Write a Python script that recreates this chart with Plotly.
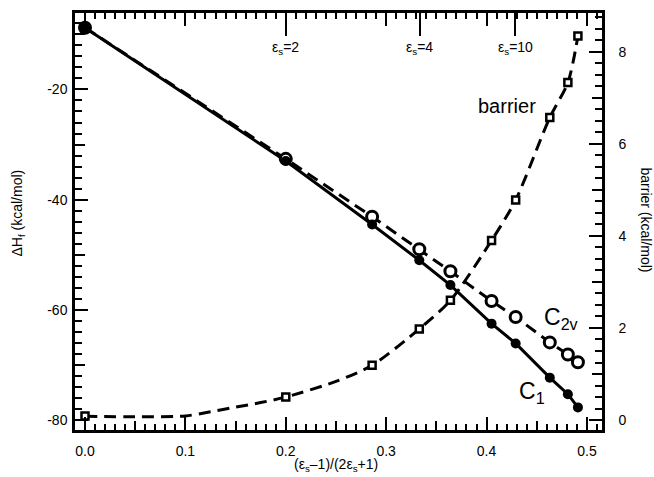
import plotly.graph_objects as go

# ---------------- data ----------------
x_pts = [0.0, 0.2, 0.286, 0.333, 0.364, 0.405, 0.429, 0.463, 0.481, 0.491]
c1 = [-8.8, -33.0, -44.5, -51.0, -55.5, -62.5, -66.1, -72.3, -75.3, -77.7]
c2v = [-8.8, -32.6, -43.1, -49.0, -53.0, -58.4, -61.3, -65.9, -68.1, -69.5]
barrier = [0.09, 0.5, 1.19, 1.98, 2.6, 3.9, 4.78, 6.57, 7.33, 8.34]

# dashed fit curve of the barrier
barrier_fit_x = [0.0, 0.05, 0.1, 0.125, 0.15, 0.175, 0.2, 0.25, 0.286, 0.333, 0.364, 0.405, 0.429, 0.463, 0.481, 0.491]
barrier_fit_y = [0.08, 0.07, 0.09, 0.18, 0.28, 0.38, 0.5, 0.84, 1.19, 1.98, 2.6, 3.9, 4.78, 6.57, 7.33, 8.34]

eps_tick_x = [0.2, 0.3333, 0.4286]
eps_tick_labels = ["ε<sub>s</sub>=2", "ε<sub>s</sub>=4", "ε<sub>s</sub>=10"]

x_tick_vals = [0, 0.1, 0.2, 0.3, 0.4, 0.5]
x_tick_text = ["0.0", "0.1", "0.2", "0.3", "0.4", "0.5"]
y_tick_vals = [-20, -40, -60, -80]
y_tick_text = ["-20", "-40", "-60", "-80"]
y2_tick_vals = [0, 2, 4, 6, 8]

x_range = [-0.00996, 0.515]
y_range = [-81.8, -6.13]
y2_range = [-0.216, 8.84]

# ---------------- figure ----------------
FONT = "Liberation Sans, Arial, sans-serif"
L, R, T, B = 75, 602, 10, 430
W, H = 654, 477

def px(xp):
    return (xp - L) / (R - L)

def py(yp):
    return (B - yp) / (B - T)

fig = go.Figure()
dash = "12px,7px"

fig.add_trace(go.Scatter(x=barrier_fit_x, y=barrier_fit_y, mode="lines", yaxis="y2",
                         line=dict(color="black", width=3, dash=dash, shape="spline", smoothing=0.8),
                         showlegend=False, hoverinfo="skip"))
fig.add_trace(go.Scatter(x=x_pts, y=c2v, mode="lines",
                         line=dict(color="black", width=3, dash=dash),
                         showlegend=False))
fig.add_trace(go.Scatter(x=x_pts, y=c1, mode="lines",
                         line=dict(color="black", width=3),
                         showlegend=False))
fig.add_trace(go.Scatter(x=x_pts, y=barrier, mode="markers", yaxis="y2",
                         marker=dict(symbol="square", size=7, color="white",
                                     line=dict(color="black", width=2.5)),
                         showlegend=False))
fig.add_trace(go.Scatter(x=x_pts, y=c2v, mode="markers",
                         marker=dict(symbol="circle", size=11, color="white",
                                     line=dict(color="black", width=3)),
                         showlegend=False))
fig.add_trace(go.Scatter(x=x_pts, y=c1, mode="markers",
                         marker=dict(symbol="circle", size=10, color="black"),
                         showlegend=False))

# dummy traces to attach the extra tick axes
for xa, ya in [("x2", "y"), ("x3", "y"), ("x", "y3"), ("x", "y4")]:
    fig.add_trace(go.Scatter(x=[None], y=[None], xaxis=xa, yaxis=ya,
                             showlegend=False, hoverinfo="skip"))

tickfont = dict(family=FONT, size=14, color="black")

fig.update_layout(
    width=W, height=H,
    margin=dict(l=L, r=W - R, t=T, b=H - B),
    plot_bgcolor="white", paper_bgcolor="white",
    xaxis=dict(range=x_range, tickvals=x_tick_vals, ticktext=x_tick_text,
               ticks="inside", ticklen=13, tickwidth=2, tickcolor="black",
               minor=dict(dtick=0.01, tick0=0, ticks="inside", ticklen=6, tickwidth=1.5, tickcolor="black"),
               showline=True, linewidth=2.5, linecolor="black", mirror="ticks",
               showgrid=False, zeroline=False, tickfont=tickfont, ticklabelstandoff=6),
    xaxis2=dict(range=x_range, overlaying="x", side="top", anchor="y",
                tickvals=eps_tick_x, ticks="inside", ticklen=23, tickwidth=2, tickcolor="black",
                showticklabels=False, showgrid=False, zeroline=False, showline=False),
    xaxis3=dict(range=x_range, overlaying="x", side="bottom", anchor="y",
                tickvals=[0.05, 0.15, 0.25, 0.35, 0.45], ticks="inside", ticklen=9, tickwidth=1.5,
                tickcolor="black", showticklabels=False, showgrid=False, zeroline=False, showline=False),
    yaxis=dict(range=y_range, tickvals=y_tick_vals, ticktext=y_tick_text,
               ticks="inside", ticklen=13, tickwidth=2, tickcolor="black",
               minor=dict(dtick=2, tick0=0, ticks="inside", ticklen=7, tickwidth=2, tickcolor="black"),
               showline=True, linewidth=2.5, linecolor="black",
               showgrid=False, zeroline=False, tickfont=tickfont, ticklabelstandoff=2),
    yaxis3=dict(range=y_range, overlaying="y", side="left", anchor="x",
                tickvals=[-10, -30, -50, -70], ticks="inside", ticklen=10, tickwidth=2,
                tickcolor="black", showticklabels=False, showgrid=False, zeroline=False, showline=False),
    yaxis2=dict(range=y2_range, overlaying="y", side="right", anchor="x",
                tickvals=y2_tick_vals,
                ticks="inside", ticklen=13, tickwidth=2, tickcolor="black",
                minor=dict(dtick=0.25, tick0=0, ticks="inside", ticklen=7, tickwidth=2, tickcolor="black"),
                showline=True, linewidth=2.5, linecolor="black",
                showgrid=False, zeroline=False, tickfont=tickfont, ticklabelstandoff=11),
    yaxis4=dict(range=y2_range, overlaying="y", side="right", anchor="x",
                tickvals=[1, 3, 5, 7], ticks="inside", ticklen=10, tickwidth=2,
                tickcolor="black", showticklabels=False, showgrid=False, zeroline=False, showline=False),
)

ann = []
def add_text(text, xp, yp, size, angle=0):
    ann.append(dict(text=text, x=px(xp), y=py(yp), xref="paper", yref="paper",
                    showarrow=False, textangle=angle, xanchor="center", yanchor="middle",
                    font=dict(family=FONT, size=size, color="black")))

for xv, lab in zip(eps_tick_x, eps_tick_labels):
    ann.append(dict(text=lab, x=xv, y=py(45), xref="x", yref="paper", showarrow=False,
                    xanchor="center", yanchor="middle",
                    font=dict(family=FONT, size=14, color="black")))

add_text("barrier", 507, 104, 20)
add_text("C<sub>2v</sub>", 561, 318, 23)
add_text("C<sub>1</sub>", 532, 392, 23)
add_text("ΔH<sub>f</sub> (kcal/mol)", 18, 212, 14, -90)
add_text("barrier (kcal/mol)", 646, 218, 14, 90)
add_text("(ε<sub>s</sub>–1)/(2ε<sub>s</sub>+1)", 336, 465, 14)

fig.update_layout(annotations=ann)
fig.write_html("out.html")
